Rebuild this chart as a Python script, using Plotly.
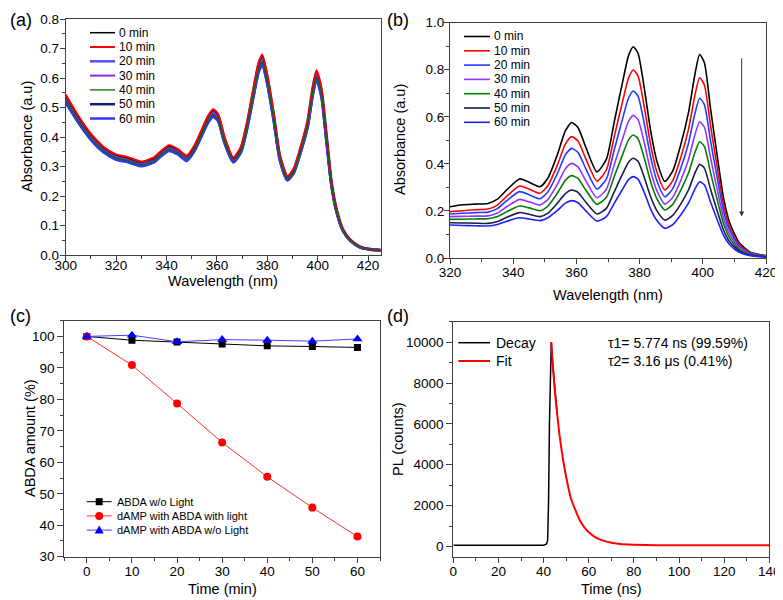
import plotly.graph_objects as go

# page is 783x600; browser body has an 8px margin, so the figure is 775x592
PAGE_OFF = 8
W, H = 783 - PAGE_OFF, 600 - PAGE_OFF
FONT = "Arial, 'Liberation Sans', sans-serif"
AX = "#404040"

# ---------------- data ----------------
time_labels = ["0 min", "10 min", "20 min", "30 min", "40 min", "50 min", "60 min"]

# (a) absorbance spectra, panel a
wl_a = [300, 305, 310, 315, 320, 325, 330, 335, 338, 341, 344.5, 348, 351, 354, 356.5, 358.5,
        360.5, 363, 366.5, 369.5, 372, 374.5, 376.5, 378, 380, 382.5, 385, 388, 390.5, 393,
        396, 398, 399.5, 401.5, 403.5, 405.5, 407.5, 410, 413, 417, 421, 425]
a_0 = [.541, .469, .408, .364, .339, .328, .315, .328, .352, .369, .357, .335, .367, .423, .469, .491,
       .474, .398, .328, .363, .449, .561, .648, .675, .607, .479, .337, .265, .291, .357,
       .454, .566, .622, .561, .403, .245, .153, .087, .051, .027, .019, .016]
a_10 = [.544, .472, .411, .367, .341, .331, .317, .331, .354, .372, .359, .337, .370, .426, .472, .494,
        .478, .401, .331, .366, .452, .565, .652, .680, .611, .483, .339, .267, .293, .359,
        .457, .570, .626, .565, .406, .246, .154, .087, .051, .027, .019, .016]
a_20 = [.535, .465, .404, .361, .335, .325, .312, .325, .348, .366, .354, .331, .364, .419, .465, .486,
        .470, .394, .325, .360, .444, .556, .641, .669, .601, .475, .333, .263, .288, .354,
        .449, .561, .616, .556, .399, .242, .152, .086, .050, .026, .019, .016]
a_30 = [.530, .460, .400, .357, .332, .322, .309, .322, .345, .362, .350, .328, .360, .415, .460, .481,
        .465, .390, .322, .356, .440, .550, .635, .662, .595, .470, .330, .260, .285, .350,
        .445, .555, .610, .550, .395, .240, .150, .085, .050, .026, .019, .016]
a_40 = [.525, .455, .396, .353, .329, .319, .306, .319, .342, .358, .347, .325, .356, .411, .455, .476,
        .460, .386, .319, .352, .436, .545, .629, .655, .589, .465, .327, .257, .282, .347,
        .441, .549, .604, .545, .391, .238, .149, .084, .050, .026, .019, .016]
a_50 = [.520, .452, .393, .351, .326, .316, .303, .316, .339, .355, .344, .322, .354, .408, .452, .472,
        .457, .383, .316, .350, .432, .540, .624, .650, .584, .462, .324, .255, .280, .344,
        .437, .545, .599, .540, .388, .236, .147, .083, .049, .026, .019, .016]
a_60 = [.516, .448, .390, .348, .323, .314, .301, .314, .336, .353, .341, .319, .351, .404, .448, .468,
        .453, .380, .314, .347, .429, .536, .618, .645, .580, .458, .321, .253, .278, .341,
        .433, .541, .594, .536, .385, .234, .146, .083, .049, .025, .019, .016]

# (b) absorbance spectra, panel b
wl_b = [320, 324, 328, 332, 335, 338, 342, 345, 348.5, 351, 354, 356.5, 358.5, 360.5, 363, 366.5,
        369.5, 372, 374.5, 376.5, 378, 379.5, 381.5, 383.5, 385.5, 388, 390.5, 393, 395.5, 397.5,
        399, 400.5, 402.5, 404.5, 406.5, 408.5, 411.5, 415, 420]
b_0 = [.218, .226, .229, .232, .250, .290, .336, .322, .303, .340, .440, .540, .576, .555, .470, .366,
       .420, .580, .740, .860, .898, .870, .720, .540, .410, .325, .370, .480, .620, .780,
       .865, .830, .630, .440, .260, .150, .065, .025, .010]
b_10 = [.197, .201, .205, .208, .225, .263, .306, .293, .275, .308, .396, .484, .516, .497, .421, .327,
        .375, .517, .659, .765, .799, .774, .640, .480, .364, .289, .329, .426, .549, .691,
        .766, .735, .558, .390, .230, .133, .058, .023, .009]
b_20 = [.187, .190, .193, .195, .210, .244, .282, .269, .252, .281, .359, .438, .466, .449, .379, .293,
        .336, .461, .586, .680, .710, .688, .570, .429, .327, .260, .295, .380, .489, .613,
        .679, .652, .494, .346, .204, .118, .051, .020, .008]
b_30 = [.176, .177, .178, .179, .191, .218, .249, .239, .225, .249, .314, .379, .402, .387, .328, .256,
        .292, .397, .502, .581, .606, .588, .489, .370, .285, .229, .258, .329, .420, .524,
        .579, .556, .422, .295, .174, .100, .044, .017, .007]
b_40 = [.164, .165, .166, .167, .176, .197, .221, .213, .201, .221, .276, .330, .350, .338, .288, .228,
        .258, .347, .435, .502, .523, .507, .424, .324, .251, .204, .228, .287, .362, .448,
        .494, .474, .360, .251, .149, .085, .037, .015, .006]
b_50 = [.150, .149, .148, .147, .155, .173, .193, .186, .176, .191, .233, .274, .289, .279, .237, .187,
        .211, .282, .354, .407, .424, .411, .342, .260, .200, .161, .181, .229, .290, .361,
        .398, .382, .290, .203, .120, .069, .030, .012, .005]
b_60 = [.140, .138, .137, .136, .142, .156, .171, .166, .159, .171, .202, .233, .244, .235, .200, .157,
        .176, .233, .290, .333, .346, .335, .278, .208, .159, .126, .142, .183, .234, .293,
        .324, .311, .236, .165, .098, .056, .024, .010, .004]

# (c) ABDA amount
time_c = [0, 10, 20, 30, 40, 50, 60]
abda_dark = [100, 98.8, 98.2, 97.6, 97.0, 96.8, 96.5]
damp_light = [100, 90.9, 78.7, 66.3, 55.4, 45.6, 36.4]
damp_dark = [100, 100.4, 98.3, 99.0, 98.8, 98.5, 99.2]
names_c = ["ABDA w/o Light", "dAMP with ABDA with light", "dAMP with ABDA w/o Light"]

# (d) PL decay
t_decay = [0, 5, 10, 15, 20, 25, 30, 35, 40, 41.3, 41.8, 42.2, 42.6, 43.0, 43.4, 44, 45, 46]
pl_decay = [60, 55, 62, 58, 60, 56, 58, 55, 62, 120, 300, 2200, 6000, 8800, 10000, 9000, 7600, 6500]
t_fit = [43.4, 44, 45, 46, 47, 48, 49, 50, 52, 54, 56, 58, 60, 63, 66, 70, 75, 80, 90, 100,
         110, 120, 130, 140]
pl_fit = [10000, 9000, 7600, 6500, 5500, 4700, 4000, 3400, 2400, 1800, 1300, 950, 700, 450, 300,
          180, 110, 80, 60, 55, 55, 55, 55, 55]
tau_text = ["τ1= 5.774 ns (99.59%)", "τ2= 3.16 μs (0.41%)"]

# ---------------- styles ----------------
colors_a = ["#000000", "#ff0000", "#5050ff", "#8a2be2", "#007000", "#1a1a6e", "#3535ff"]
widths_a = [1.5, 2.0, 3.2, 2.0, 1.3, 3.0, 2.6]
draw_order_a = [2, 5, 6, 3, 0, 1, 4]
colors_b = ["#000000", "#ff0000", "#1f3fff", "#9933ff", "#008000", "#1c1c4c", "#2020ff"]

def px(x):
    """page pixel x -> paper fraction"""
    return (x - PAGE_OFF) / W

def py(y):
    """page pixel y -> paper fraction"""
    return 1 - (y - PAGE_OFF) / H

fig = go.Figure()

series_a = [a_0, a_10, a_20, a_30, a_40, a_50, a_60]
for k in draw_order_a:
    fig.add_trace(go.Scatter(x=wl_a, y=series_a[k], mode="lines", name=time_labels[k],
                             line=dict(color=colors_a[k], width=widths_a[k], shape="spline", smoothing=0.6),
                             xaxis="x", yaxis="y", showlegend=False))

series_b = [b_0, b_10, b_20, b_30, b_40, b_50, b_60]
for k in range(7):
    fig.add_trace(go.Scatter(x=wl_b, y=series_b[k], mode="lines", name=time_labels[k],
                             line=dict(color=colors_b[k], width=1.6, shape="spline", smoothing=0.6),
                             xaxis="x2", yaxis="y2", showlegend=False))

fig.add_trace(go.Scatter(x=time_c, y=abda_dark, mode="lines+markers", name=names_c[0],
                         line=dict(color="#000000", width=1),
                         marker=dict(symbol="square", size=7, color="#000000"),
                         xaxis="x3", yaxis="y3", showlegend=False))
fig.add_trace(go.Scatter(x=time_c, y=damp_light, mode="lines+markers", name=names_c[1],
                         line=dict(color="#ff3030", width=1),
                         marker=dict(symbol="circle", size=8, color="#ff0000"),
                         xaxis="x3", yaxis="y3", showlegend=False))
fig.add_trace(go.Scatter(x=time_c, y=damp_dark, mode="lines+markers", name=names_c[2],
                         line=dict(color="#4040ff", width=1),
                         marker=dict(symbol="triangle-up", size=9, color="#0000ff"),
                         xaxis="x3", yaxis="y3", showlegend=False))

fig.add_trace(go.Scatter(x=t_decay, y=pl_decay, mode="lines", name="Decay",
                         line=dict(color="#000000", width=1.5), xaxis="x4", yaxis="y4", showlegend=False))
fig.add_trace(go.Scatter(x=t_fit, y=pl_fit, mode="lines", name="Fit",
                         line=dict(color="#ff0000", width=2, shape="spline", smoothing=0.5),
                         xaxis="x4", yaxis="y4", showlegend=False))


def axis(domain, rng, dtick, minor_dtick, anchor, lab_off, tick0=None, fmt=None, tlen=5):
    d = dict(domain=domain, range=rng, dtick=dtick, anchor=anchor, automargin=False,
             showline=True, linecolor=AX, linewidth=1, mirror=True,
             ticks="outside", ticklen=tlen, tickwidth=1, tickcolor=AX,
             showgrid=False, zeroline=False, ticklabelstandoff=lab_off,
             ticklabeloverflow="allow",
             tickfont=dict(size=13.5, color="black", family=FONT),
             minor=dict(dtick=minor_dtick, ticks="outside", ticklen=3, tickwidth=1,
                        tickcolor=AX, showgrid=False))
    if tick0 is not None:
        d["tick0"] = tick0
        d["minor"]["tick0"] = tick0
    if fmt is not None:
        d["tickformat"] = fmt
    return d

dom_a = ([px(65.7), px(380.7)], [py(255), py(19)])
dom_b = ([px(450), px(766)], [py(258), py(22.7)])
dom_c = ([px(64.3), px(380)], [py(556.7), py(320.7)])
dom_d = ([px(453.3), px(769.3)], [py(556.7), py(321.7)])

fig.update_layout(
    width=W, height=H, margin=dict(l=0, r=0, t=0, b=0, autoexpand=False),
    paper_bgcolor="white", plot_bgcolor="white",
    font=dict(family=FONT, color="black"),
    xaxis=axis(dom_a[0], [300, 425], 20, 10, "y", -7, tick0=300),
    yaxis=axis(dom_a[1], [0, 0.8], 0.1, 0.05, "x", -2, tick0=0, fmt=".1f"),
    xaxis2=axis(dom_b[0], [320, 420], 20, 10, "y2", -3, tick0=320),
    yaxis2=axis(dom_b[1], [0, 1.0], 0.2, 0.1, "x2", -3, tick0=0, fmt=".1f"),
    xaxis3=axis(dom_c[0], [-5, 65], 10, 5, "y3", -3, tick0=0),
    yaxis3=axis(dom_c[1], [30, 105], 10, 5, "x3", 0, tick0=30, tlen=6),
    xaxis4=axis(dom_d[0], [0, 140], 20, 10, "y4", -3, tick0=0),
    yaxis4=axis(dom_d[1], [-500, 11000], 2000, 1000, "x4", 0, tick0=0, fmt="d", tlen=6),
)

shapes = []
annotations = []

def text_at(x, y, text, size, xanchor="left", angle=0, yanchor="middle"):
    annotations.append(dict(x=px(x), y=py(y), xref="paper", yref="paper", text=text,
                            showarrow=False, xanchor=xanchor, yanchor=yanchor, textangle=angle,
                            font=dict(size=size, color="black", family=FONT)))

def legend_line(x0, x1, y, color, width):
    shapes.append(dict(type="line", xref="paper", yref="paper", x0=px(x0), x1=px(x1),
                       y0=py(y), y1=py(y), line=dict(color=color, width=width)))

# axis titles
TS = 14.5
text_at(223, 281, "Wavelength (nm)", TS, xanchor="center")
text_at(27, 137, "Absorbance (a.u)", TS, xanchor="center", angle=-90)
text_at(608, 295, "Wavelength (nm)", TS, xanchor="center")
text_at(400, 140, "Absorbance (a.u)", TS, xanchor="center", angle=-90)
text_at(222, 589, "Time (min)", TS, xanchor="center")
text_at(30, 438, "ABDA amount (%)", TS, xanchor="center", angle=-90)
text_at(611, 589, "Time (ns)", TS, xanchor="center")
text_at(398, 439, "PL (counts)", TS, xanchor="center", angle=-90)

# legend (a)
for k in range(7):
    yy = 32.7 + 14.3 * k
    legend_line(90, 115, yy, colors_a[k], min(widths_a[k], 2.5))
    text_at(117, yy, time_labels[k], 12)

# legend (b)
for k in range(7):
    yy = 36.5 + 14.3 * k
    legend_line(464, 490, yy, colors_b[k], 1.6)
    text_at(492, yy, time_labels[k], 12)

# legend (c)
leg_c_colors = ["#000000", "#ff3030", "#4040ff"]
mark_c_colors = ["#000000", "#ff0000", "#0000ff"]
for k in range(3):
    yy = 501.7 + 14.2 * k
    legend_line(86.7, 111.7, yy, leg_c_colors[k], 1)
    text_at(115, yy, names_c[k], 11)
    cx = 99.2
    if k == 0:
        shapes.append(dict(type="rect", xref="paper", yref="paper", x0=px(cx - 3.5), x1=px(cx + 3.5),
                           y0=py(yy + 3.5), y1=py(yy - 3.5), fillcolor=mark_c_colors[k],
                           line=dict(width=0)))
    elif k == 1:
        shapes.append(dict(type="circle", xref="paper", yref="paper", x0=px(cx - 4), x1=px(cx + 4),
                           y0=py(yy + 4), y1=py(yy - 4), fillcolor=mark_c_colors[k],
                           line=dict(width=0)))
    else:
        path = "M %f,%f L %f,%f L %f,%f Z" % (px(cx - 4.5), py(yy + 3.5), px(cx + 4.5), py(yy + 3.5),
                                               px(cx), py(yy - 4.5))
        shapes.append(dict(type="path", xref="paper", yref="paper", path=path,
                           fillcolor=mark_c_colors[k], line=dict(width=0)))

# legend (d)
legend_line(458.3, 490, 342.7, "#000000", 1.5)
text_at(494, 342.7, "Decay", 14)
legend_line(458.3, 490, 361, "#ff0000", 2)
text_at(494, 361, "Fit", 14)
text_at(606, 342.7, tau_text[0], 14)
text_at(606, 361, tau_text[1], 14)

# arrow in (b)
annotations.append(dict(x=412.3, y=0.176, ax=412.3, ay=0.855, xref="x2", yref="y2",
                        axref="x2", ayref="y2", text="", showarrow=True, arrowhead=2,
                        arrowsize=1, arrowwidth=1, arrowcolor="#333333"))

# panel labels
for lab, x, y in [("(a)", 8, 8), ("(b)", 385, 8), ("(c)", 8, 304), ("(d)", 385, 304)]:
    text_at(x, y, lab, 18, yanchor="top")

fig.update_layout(shapes=shapes, annotations=annotations)
fig.write_html("out.html")
